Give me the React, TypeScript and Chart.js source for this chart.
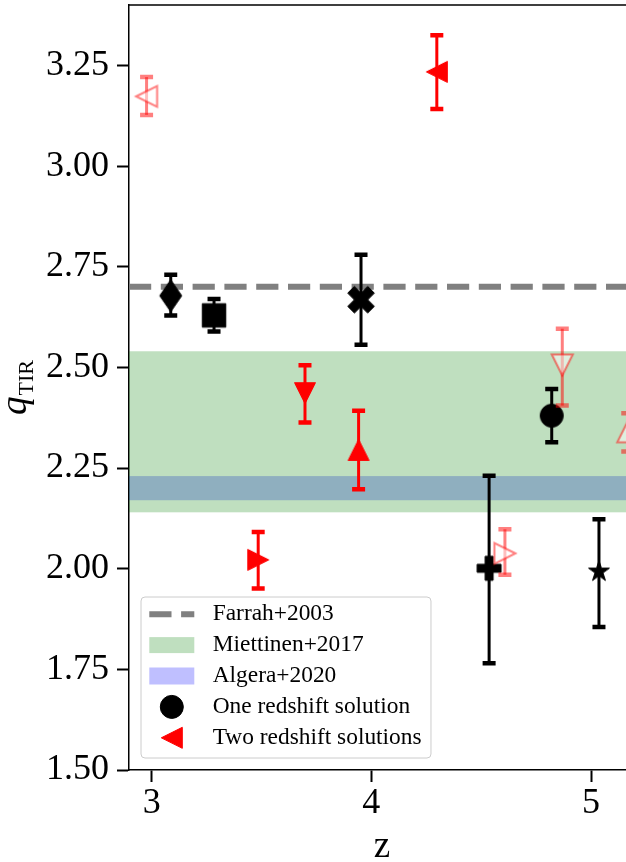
import React, { useEffect, useRef } from "react";
import { Chart, registerables } from "chart.js";

Chart.register(...registerables);

// ---- axes ----
const X_MIN = 2.897;
const X_MAX = 5.2;
const Y_MIN = 1.5;
const Y_MAX = 3.4;
const X_TICKS = [3, 4, 5];
const Y_TICKS = [1.5, 1.75, 2.0, 2.25, 2.5, 2.75, 3.0, 3.25];

// ---- sources ----
const Z = [2.977, 3.087, 3.284, 3.698, 3.485, 3.953, 3.942, 4.298, 4.536, 4.608, 4.821, 4.869, 5.036, 5.167];
const Q = [3.173, 2.678, 2.629, 2.436, 2.022, 2.668, 2.295, 3.234, 2.001, 2.038, 2.38, 2.506, 1.993, 2.34];
const Q_HI = [3.221, 2.73, 2.67, 2.505, 2.091, 2.78, 2.392, 3.325, 2.231, 2.098, 2.446, 2.596, 2.123, 2.386];
const Q_LO = [3.127, 2.629, 2.589, 2.363, 1.951, 2.556, 2.197, 3.142, 1.765, 1.985, 2.314, 2.405, 1.855, 2.291];
const MARKER = ["tri_left", "thin_diamond", "square", "tri_down", "tri_right", "x", "tri_up", "tri_left", "plus", "tri_right", "circle", "tri_down", "star", "tri_up"];
// one = one redshift solution, two = two redshift solutions (primary), alt = alternative solution
const GROUP = ["alt", "one", "one", "two", "two", "one", "two", "two", "one", "alt", "one", "alt", "one", "alt"];

// ---- references ----
const FARRAH_Q = 2.7;
const MIETTINEN_BAND = [2.14, 2.54];
const ALGERA_BAND = [2.17, 2.23];

const LEGEND_LABELS = ["Farrah+2003", "Miettinen+2017", "Algera+2020", "One redshift solution", "Two redshift solutions"];

const SERIF = "'Liberation Serif', 'Times New Roman', serif";

function poly(ctx: CanvasRenderingContext2D, pts: number[][]) {
  pts.forEach((p, i) => (i === 0 ? ctx.moveTo(p[0], p[1]) : ctx.lineTo(p[0], p[1])));
  ctx.closePath();
}

function plusPts(u: number, rot: number) {
  const base = [[-1, -3], [1, -3], [1, -1], [3, -1], [3, 1], [1, 1], [1, 3], [-1, 3], [-1, 1], [-3, 1], [-3, -1], [-1, -1]];
  const c = Math.cos(rot), s = Math.sin(rot);
  return base.map(([x, y]) => [(x * c - y * s) * u, (x * s + y * c) * u]);
}

function markerPath(ctx: CanvasRenderingContext2D, type: string) {
  ctx.beginPath();
  const h = 10.5;
  switch (type) {
    case "circle":
      ctx.arc(0, 0, 11.5, 0, Math.PI * 2);
      break;
    case "square":
      ctx.rect(-11.75, -11.75, 23.5, 23.5);
      break;
    case "thin_diamond":
      poly(ctx, [[0, -16], [11, 0], [0, 16], [-11, 0]]);
      break;
    case "tri_up":
      poly(ctx, [[0, -h], [h, h], [-h, h]]);
      break;
    case "tri_down":
      poly(ctx, [[0, h], [h, -h], [-h, -h]]);
      break;
    case "tri_left":
      poly(ctx, [[-h, 0], [h, -h], [h, h]]);
      break;
    case "tri_right":
      poly(ctx, [[h, 0], [-h, -h], [-h, h]]);
      break;
    case "plus":
      poly(ctx, plusPts(4, 0));
      break;
    case "x":
      poly(ctx, plusPts(4.7, Math.PI / 4));
      break;
    case "star": {
      const pts: number[][] = [];
      for (let k = 0; k < 10; k++) {
        const r = k % 2 === 0 ? 11 : 4.2;
        const a = -Math.PI / 2 + (k * Math.PI) / 5;
        pts.push([r * Math.cos(a), r * Math.sin(a)]);
      }
      poly(ctx, pts);
      break;
    }
  }
}

function styleFor(group: string) {
  if (group === "one") return { fill: "#000000", stroke: "#000000", lw: 1 };
  if (group === "two") return { fill: "#ff0000", stroke: "#ff0000", lw: 1 };
  return { fill: "rgba(255,255,255,0.5)", stroke: "rgba(255,0,0,0.5)", lw: 2 };
}

function drawMarker(ctx: CanvasRenderingContext2D, type: string, group: string, x: number, y: number) {
  const st = styleFor(group);
  ctx.save();
  ctx.translate(x, y);
  markerPath(ctx, type);
  ctx.fillStyle = st.fill;
  ctx.fill();
  ctx.strokeStyle = st.stroke;
  ctx.lineWidth = st.lw;
  ctx.lineJoin = "miter";
  ctx.stroke();
  ctx.restore();
}

function makeMarker(type: string, group: string) {
  const c = document.createElement("canvas");
  c.width = 40;
  c.height = 40;
  const ctx = c.getContext("2d")!;
  drawMarker(ctx, type, group, 20, 20);
  return c;
}

const bandsPlugin = {
  id: "bands",
  beforeDatasetsDraw(chart: any) {
    const { ctx, chartArea: a } = chart;
    const y = chart.scales.y;
    ctx.save();
    ctx.beginPath();
    ctx.rect(a.left, a.top, a.right - a.left, a.bottom - a.top);
    ctx.clip();
    const band = (b: number[], color: string) => {
      const y1 = y.getPixelForValue(b[1]);
      const y2 = y.getPixelForValue(b[0]);
      ctx.fillStyle = color;
      ctx.fillRect(a.left, y1, a.right - a.left, y2 - y1);
    };
    band(ALGERA_BAND, "rgba(0,0,255,0.25)");
    band(MIETTINEN_BAND, "rgba(0,128,0,0.25)");
    ctx.restore();
  },
};

const errorPlugin = {
  id: "errorbars",
  beforeDatasetDraw(chart: any, args: any) {
    const ds = chart.data.datasets[args.index];
    if (!ds.errHi) return;
    const { ctx } = chart;
    const x = chart.scales.x;
    const y = chart.scales.y;
    ds.data.forEach((p: any, j: number) => {
      const px = x.getPixelForValue(p.x);
      const yh = y.getPixelForValue(ds.errHi[j]);
      const yl = y.getPixelForValue(ds.errLo[j]);
      ctx.save();
      ctx.strokeStyle = ds.errColor;
      ctx.lineWidth = 3;
      ctx.beginPath();
      ctx.moveTo(px, yh);
      ctx.lineTo(px, yl);
      ctx.stroke();
      ctx.lineWidth = 4.5;
      ctx.beginPath();
      ctx.moveTo(px - 6.5, yh);
      ctx.lineTo(px + 6.5, yh);
      ctx.moveTo(px - 6.5, yl);
      ctx.lineTo(px + 6.5, yl);
      ctx.stroke();
      ctx.restore();
    });
  },
};

const framePlugin = {
  id: "frame",
  afterDraw(chart: any) {
    const { ctx, chartArea: a } = chart;
    ctx.save();
    ctx.strokeStyle = "#000";
    ctx.lineWidth = 1.5;
    ctx.beginPath();
    ctx.moveTo(a.left, a.top);
    ctx.lineTo(a.right, a.top);
    ctx.lineTo(a.right, a.bottom);
    ctx.stroke();

    // x title
    ctx.fillStyle = "#000";
    ctx.font = `37px ${SERIF}`;
    ctx.textAlign = "center";
    ctx.textBaseline = "alphabetic";
    ctx.fillText("z", (a.left + a.right) / 2, 857);

    // y title q_TIR
    const cy = (a.top + a.bottom) / 2;
    ctx.translate(25.6, cy);
    ctx.rotate(-Math.PI / 2);
    ctx.textAlign = "left";
    const fq = `italic 37px ${SERIF}`;
    const fs = `22px ${SERIF}`;
    ctx.font = fq;
    const wq = ctx.measureText("q").width;
    ctx.font = fs;
    const ws = ctx.measureText("TIR").width;
    const total = wq + 1 + ws;
    ctx.font = fq;
    ctx.fillText("q", -total / 2, 0);
    ctx.font = fs;
    ctx.fillText("TIR", -total / 2 + wq + 1, 7.5);
    ctx.restore();
  },
};

const legendPlugin = {
  id: "customLegend",
  afterDraw(chart: any) {
    const { ctx, chartArea: a } = chart;
    ctx.save();
    ctx.font = `23.4px ${SERIF}`;
    const maxW = Math.max(...LEGEND_LABELS.map((t) => ctx.measureText(t).width));
    const lx = a.left + 12;
    const h = 161;
    const ly = a.bottom - 12 - h;
    const w = 71.7 + maxW + 9.4;
    ctx.beginPath();
    ctx.roundRect(lx, ly, w, h, 4);
    ctx.fillStyle = "rgba(255,255,255,0.8)";
    ctx.fill();
    ctx.strokeStyle = "#cccccc";
    ctx.lineWidth = 1;
    ctx.stroke();

    const hx0 = lx + 8.3;
    const hx1 = lx + 53.3;
    const hc = (hx0 + hx1) / 2;
    const tx = lx + 71.7;
    LEGEND_LABELS.forEach((label, i) => {
      const ry = ly + 17.2 + i * 30.9;
      if (i === 0) {
        ctx.save();
        ctx.strokeStyle = "#808080";
        ctx.lineWidth = 6;
        ctx.setLineDash([22.2, 9.6]);
        ctx.beginPath();
        ctx.moveTo(hx0, ry);
        ctx.lineTo(hx1, ry);
        ctx.stroke();
        ctx.restore();
      } else if (i === 1) {
        ctx.fillStyle = "rgba(0,128,0,0.25)";
        ctx.fillRect(hx0, ry - 8, hx1 - hx0, 16);
      } else if (i === 2) {
        ctx.fillStyle = "rgba(0,0,255,0.25)";
        ctx.fillRect(hx0, ry - 8.5, hx1 - hx0, 17);
      } else if (i === 3) {
        drawMarker(ctx, "circle", "one", hc, ry);
      } else {
        drawMarker(ctx, "tri_left", "two", hc, ry);
      }
      ctx.fillStyle = "#000";
      ctx.textAlign = "left";
      ctx.textBaseline = "middle";
      ctx.fillText(label, tx, ry);
    });
    ctx.restore();
  },
};

export default function App() {
  const ref = useRef<HTMLCanvasElement>(null);

  useEffect(() => {
    document.body.style.margin = "0";
    const canvas = ref.current!;
    const rank: Record<string, number> = { one: 30, two: 20, alt: 10 };

    const farrah: any = {
      type: "line",
      data: [
        { x: X_MIN, y: FARRAH_Q },
        { x: X_MAX, y: FARRAH_Q },
      ],
      borderColor: "#808080",
      borderWidth: 6,
      borderDash: [22.2, 9.6],
      pointRadius: 0,
      fill: false,
      order: 1000,
    };

    const points: any[] = Z.map((z, i) => ({
      type: "scatter",
      data: [{ x: z, y: Q[i] }],
      errHi: [Q_HI[i]],
      errLo: [Q_LO[i]],
      errColor: GROUP[i] === "one" ? "#000000" : GROUP[i] === "two" ? "#ff0000" : "rgba(255,0,0,0.5)",
      pointStyle: makeMarker(MARKER[i], GROUP[i]),
      pointRadius: 12,
      pointHoverRadius: 12,
      order: rank[GROUP[i]] + (Z.length - i) * 0.01,
    }));

    const tickFont = { family: SERIF, size: 36 };

    const chart = new Chart(canvas, {
      type: "scatter",
      data: { datasets: [farrah, ...points] },
      options: {
        animation: false,
        responsive: false,
        devicePixelRatio: 1,
        events: [],
        layout: { autoPadding: false, padding: { top: 5, right: 10, left: 0, bottom: 0 } },
        plugins: { legend: { display: false }, tooltip: { enabled: false } },
        scales: {
          x: {
            type: "linear",
            min: X_MIN,
            max: X_MAX,
            afterBuildTicks: (s: any) => {
              s.ticks = X_TICKS.map((v) => ({ value: v }));
            },
            afterFit: (s: any) => {
              s.height = 92;
              s.paddingLeft = 0;
              s.paddingRight = 0;
            },
            grid: { drawOnChartArea: false, drawTicks: true, tickLength: 12, tickWidth: 2, tickColor: "#000" },
            border: { display: true, color: "#000", width: 1.5 },
            ticks: { color: "#000", font: tickFont, padding: 0, maxRotation: 0, callback: (v: any) => String(v) },
          },
          y: {
            type: "linear",
            min: Y_MIN,
            max: Y_MAX,
            afterBuildTicks: (s: any) => {
              s.ticks = Y_TICKS.map((v) => ({ value: v }));
            },
            afterFit: (s: any) => {
              s.width = 129;
              s.paddingTop = 0;
              s.paddingBottom = 0;
            },
            grid: { drawOnChartArea: false, drawTicks: true, tickLength: 12, tickWidth: 2, tickColor: "#000" },
            border: { display: true, color: "#000", width: 1.5 },
            ticks: { color: "#000", font: tickFont, padding: 8, callback: (v: any) => Number(v).toFixed(2) },
          },
        },
      } as any,
      plugins: [bandsPlugin, errorPlugin, framePlugin, legendPlugin],
    });

    return () => chart.destroy();
  }, []);

  return (
    <div style={{ width: 626, height: 862, overflow: "hidden", position: "relative" }}>
      <canvas ref={ref} width={645} height={862} style={{ display: "block", width: 645, height: 862 }} />
    </div>
  );
}
